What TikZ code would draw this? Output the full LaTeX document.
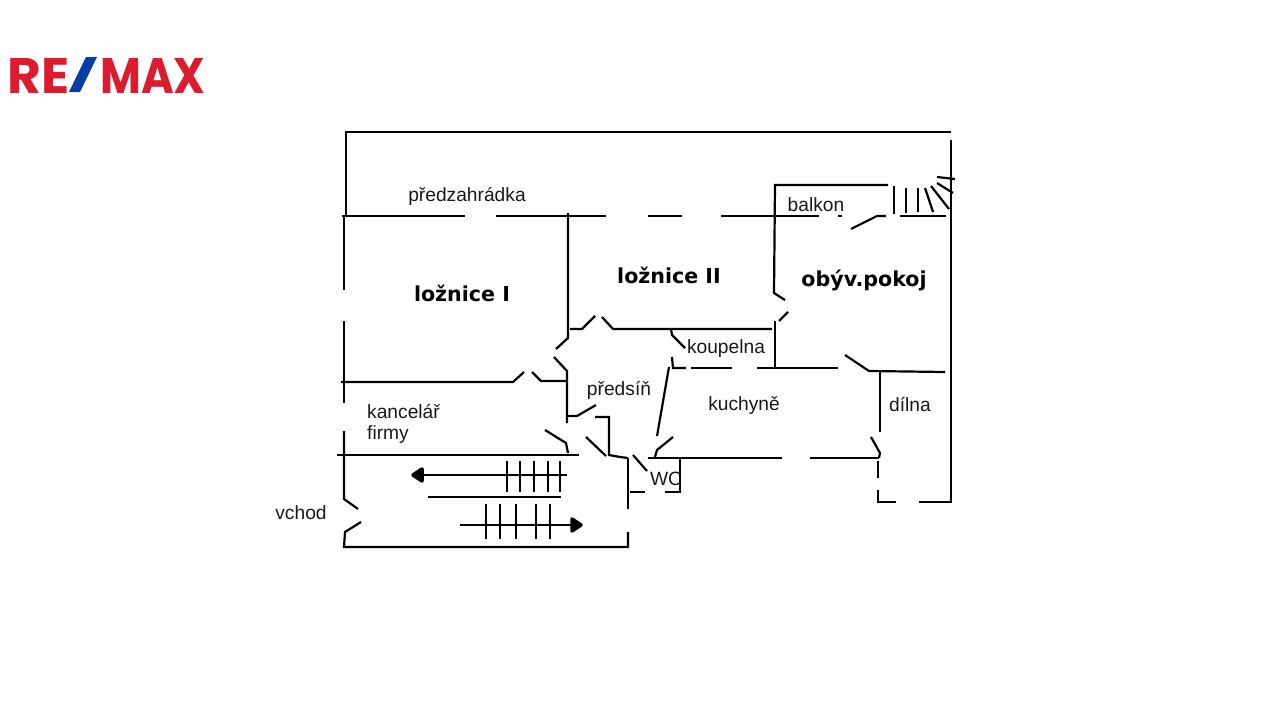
\documentclass[tikz,border=0pt]{standalone}
\usepackage{fontspec}
\setmainfont{Liberation Sans}
\newfontfamily\boldlabelfont{DejaVu Sans}
\newfontfamily\logofont{Poppins}
\definecolor{logored}{HTML}{DC1C2E}
\definecolor{logoblue}{HTML}{003DA5}
\tikzset{wall/.style={line width=2.2pt,black},
    stairline/.style={line width=2.2pt,black},
    stairhead/.style={line width=3.5pt,black,fill=black,line join=round},
    room/.style={inner sep=0pt,font=\fontsize{19.2}{21}\selectfont,text=black!90},
    bigroom/.style={inner sep=0pt,font=\boldlabelfont\bfseries\fontsize{20.6}{22}\selectfont},
    logotext/.style={inner sep=0pt,anchor=base west,text=logored,font=\logofont\bfseries\fontsize{50}{50}\selectfont},
    }

\begin{document}
\begin{tikzpicture}[x=1pt,y=-1pt]
\useasboundingbox (0,0) rectangle (1280,720);
% logo
\node[logotext,xscale=1.04] (logore) at (7,93) {RE};
\fill[logoblue] (86,57) -- (97,57) -- (80,92) -- (69,92) -- cycle;
\node[logotext,xscale=.89] (logomax) at (100,93) {MAX};
% outer walls
\draw[wall] (346,216) -- (346,132) -- (951,132);
\draw[wall] (951,140) -- (951,502) -- (919,502);
\draw[wall] (896,502) -- (878,502) -- (878,490);
\draw[wall] (878,478) -- (878,461);
\draw[wall] (344,216) -- (344,290);
\draw[wall] (344,321) -- (344,403);
\draw[wall] (344,431) -- (344,499) -- (358,509);
\draw[wall] (361,522) -- (345,532) -- (344,547) -- (628,547) -- (628,532);
\draw[wall] (628,509) -- (628,458);
% front wall
\draw[wall] (342,216) -- (465,216);
\draw[wall] (496,216) -- (606,216);
\draw[wall] (648,216) -- (682,216);
\draw[wall] (721,216) -- (819,216);
\draw[wall] (838,216) -- (842,216);
\draw[wall] (851,229) -- (877,216) -- (886,216);
\draw[wall] (900,216) -- (946,216);
% balcony and its steps
\draw[wall] (888,185) -- (775,185) -- (774,293) -- (785,300);
\draw[stairline] (894,186) -- (894,214);
\draw[stairline] (906,188) -- (906,213);
\draw[stairline] (918,188) -- (918,212);
\draw[stairline] (925,188) -- (933,212);
\draw[stairline] (931,186) -- (949,209);
\draw[stairline] (937,183) -- (953,193);
\draw[stairline] (937,177) -- (955,179);
% inner walls
\draw[wall] (568,213) -- (568,338) -- (556,349);
\draw[wall] (554,357) -- (567,371) -- (567,423);
\draw[wall] (341,382) -- (513,382) -- (524,372);
\draw[wall] (532,372) -- (541,381) -- (566,381);
\draw[wall] (570,329) -- (582,329) -- (595,316);
\draw[wall] (602,317) -- (613,329) -- (772,329);
\draw[wall] (566,416) -- (577,416) -- (596,405);
\draw[wall] (595,417) -- (609,417) -- (609,455) -- (620,457) -- (628,458);
\draw[wall] (586,437) -- (606,456);
\draw[wall] (633,455) -- (647,471);
% bathroom
\draw[wall] (788,312) -- (779,321);
\draw[wall] (775,321) -- (775,368);
\draw[wall] (685,348) -- (672,335) -- (671,329);
\draw[wall] (672,357) -- (673,368) -- (686,368);
\draw[wall] (691,368) -- (732,368);
\draw[wall] (757,368) -- (838,368);
\draw[wall] (669,367) -- (657,436);
% kitchen
\draw[wall] (845,355) -- (869,371) -- (945,372);
\draw[wall] (880,371) -- (880,432);
\draw[wall] (871,437) -- (880,453) -- (879,458);
\draw[wall] (648,458) -- (782,458);
\draw[wall] (810,458) -- (879,458);
\draw[wall] (655,457) -- (657,450) -- (673,437);
% WC
\draw[wall] (630,492) -- (645,492);
\draw[wall] (665,492) -- (680,492) -- (680,458);
% stairs
\draw[wall] (337,455) -- (579,455);
\draw[wall] (545,430) -- (566,443) -- (568,453);
\draw[stairline] (567,475) -- (418,475);
\draw[stairhead] (413,475) -- (422,469) -- (422,481) -- cycle;
\foreach \tickx in {507,520,534,548,560}
    \draw[stairline] (\tickx,461) -- (\tickx,492);
\draw[wall] (428,497) -- (561,497);
\draw[stairline] (460,525) -- (576,525);
\draw[stairhead] (581,525) -- (572,519) -- (572,531) -- cycle;
\foreach \tickx in {486,500,516,536,550}
    \draw[stairline] (\tickx,504) -- (\tickx,539);
% labels
\node[room] (predzahradka) at (467,196) {předzahrádka};
\node[bigroom] (loznice1) at (462,293) {ložnice I};
\node[bigroom] (loznice2) at (669,275) {ložnice II};
\node[bigroom] (obyvak) at (864,280) {obýv.pokoj};
\node[room] (balkon) at (816,205) {balkon};
\node[room] (koupelna) at (726,349) {koupelna};
\node[room] (predsin) at (619,390) {předsíň};
\node[room] (kuchyne) at (744,405) {kuchyně};
\node[room] (dilna) at (910,405) {dílna};
\node[room,align=left,anchor=west] (kancelar) at (367,424) {kancelář\\firmy};
\node[room] (wc) at (666,479) {WC};
\node[room] (vchod) at (301,513) {vchod};
\end{tikzpicture}
\end{document}
